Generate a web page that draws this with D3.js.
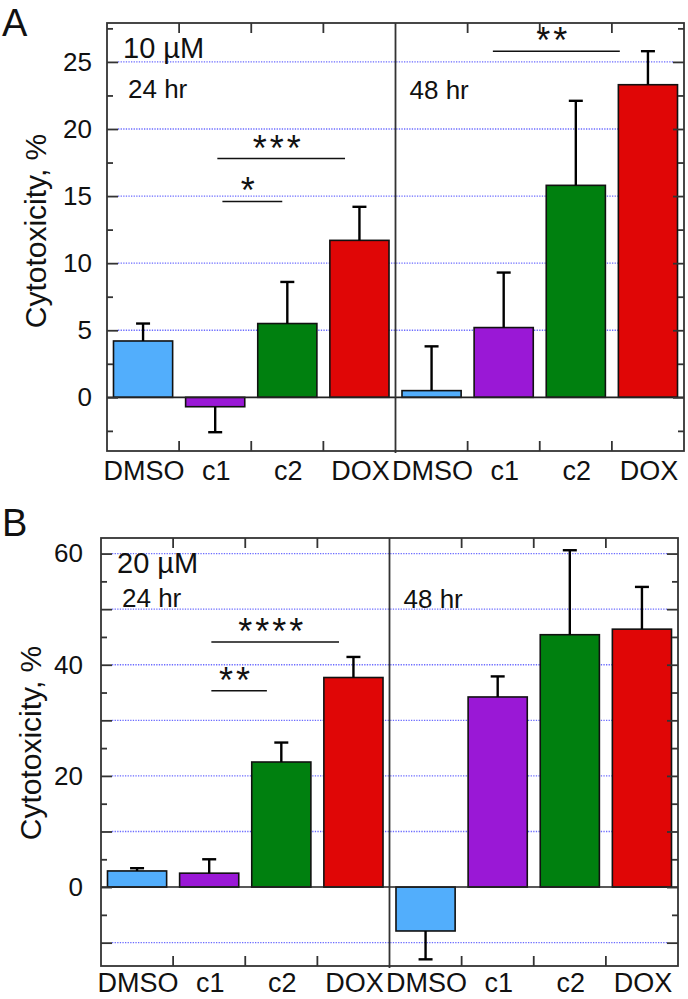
<!DOCTYPE html>
<html>
<head>
<meta charset="utf-8">
<script src="https://d3js.org/d3.v7.min.js"></script>
<style>
  body { margin: 0; background: white; }
  svg { display: block; }
  text { font-family: Arial, "Liberation Sans", sans-serif; fill: #111; }
</style>
</head>
<body>
<svg width="688" height="999"></svg>
<script>
// chart values
var categories = ["DMSO", "c1", "c2", "DOX"]
var times = ["24 hr", "48 hr"]
var colors = ["#52aefc", "#9a18d6", "#00800f", "#e00606"]

var meanA24 = [4.2, -0.7, 5.5, 11.7]
var errA24 = [1.3, 1.9, 3.1, 2.5]
var meanA48 = [0.5, 5.2, 15.8, 23.3]
var errA48 = [3.3, 4.1, 6.3, 2.5]

var meanB24 = [2.9, 2.5, 22.5, 37.7]
var errB24 = [0.5, 2.5, 3.5, 3.7]
var meanB48 = [-7.9, 34.2, 45.4, 46.4]
var errB48 = [5.1, 3.7, 15.2, 7.6]

var labelTicksA = [0, 5, 10, 15, 20, 25]
var majorTicksA = [0, 5, 10, 15, 20, 25]
var minorTicksA = [-2.5, 2.5, 7.5, 12.5, 17.5, 22.5, 27.5]
var gridA = [5, 10, 15, 20, 25]

var labelTicksB = [0, 20, 40, 60]
var majorTicksB = [-10, 0, 10, 20, 30, 40, 50, 60]
var minorTicksB = [-5, 5, 15, 25, 35, 45, 55]
var gridB = [-10, 10, 20, 30, 40, 50, 60]

// significance marks: from/to category keys, y in data units
var starsA = [
  { from: "24 hr|c1", to: "24 hr|DOX", y: 17.8, label: "***", d1: 0.03, d2: -0.2 },
  { from: "24 hr|c1", to: "24 hr|c2", y: 14.6, label: "*", d1: 0.1, d2: -0.07 },
  { from: "48 hr|c1", to: "48 hr|DOX", y: 25.8, label: "**", d1: -0.15, d2: -0.39 }
]
var starsB = [
  { from: "24 hr|c1", to: "24 hr|DOX", y: 44.1, label: "****", d1: 0.03, d2: -0.2 },
  { from: "24 hr|c1", to: "24 hr|c2", y: 35.3, label: "**", d1: 0.03, d2: -0.2 }
]

var svg = d3.select("svg")

function rows(m24, e24, m48, e48) {
  var out = []
  times.forEach(function(t, ti) {
    categories.forEach(function(c, i) {
      out.push({
        key: t + "|" + c, cat: c, time: t,
        value: ti == 0 ? m24[i] : m48[i],
        err: ti == 0 ? e24[i] : e48[i],
        color: colors[i]
      })
    })
  })
  return out
}

function drawPanel(p) {
  var g = svg.append("g")
  var data = rows(p.m24, p.e24, p.m48, p.e48)
  var keys = data.map(d => d.key)

  var x = d3.scaleBand().domain(keys).range([p.left, p.right]).paddingInner(0.18).paddingOuter(0.09)
  var y = d3.scaleLinear().domain(p.domain).range([p.bottom, p.top])
  var gap = (x.step() - x.bandwidth()) / 2
  var cx = k => x(k) + x.bandwidth() / 2
  var divider = x(keys[4]) - gap

  // dotted grid
  g.selectAll(".grid").data(p.grid).enter().append("line")
    .attr("x1", p.left + 11).attr("x2", p.right - 11)
    .attr("y1", d => y(d)).attr("y2", d => y(d))
    .attr("stroke", "#6b6bff").attr("stroke-width", 1.3)
    .attr("stroke-dasharray", "1.3,1.3")

  // bars
  g.selectAll(".bar").data(data).enter().append("rect")
    .attr("x", d => x(d.key))
    .attr("width", x.bandwidth())
    .attr("y", d => Math.min(y(d.value), y(0)))
    .attr("height", d => Math.abs(y(d.value) - y(0)))
    .attr("fill", d => d.color)
    .attr("stroke", "#111").attr("stroke-width", 1.6)

  // error bars (one sided)
  var eb = g.selectAll(".err").data(data).enter().append("g")
  eb.append("line")
    .attr("x1", d => cx(d.key)).attr("x2", d => cx(d.key))
    .attr("y1", d => y(d.value))
    .attr("y2", d => y(d.value + Math.sign(d.value) * d.err))
    .attr("stroke", "#000").attr("stroke-width", 2.4)
  eb.append("line")
    .attr("x1", d => cx(d.key) - 7).attr("x2", d => cx(d.key) + 7)
    .attr("y1", d => y(d.value + Math.sign(d.value) * d.err))
    .attr("y2", d => y(d.value + Math.sign(d.value) * d.err))
    .attr("stroke", "#000").attr("stroke-width", 2.4)

  // zero line
  g.append("line").attr("x1", p.left).attr("x2", p.right)
    .attr("y1", y(0)).attr("y2", y(0))
    .attr("stroke", "#222").attr("stroke-width", 1.6)

  // frame + divider
  g.append("rect").attr("x", p.left).attr("y", p.top)
    .attr("width", p.right - p.left).attr("height", p.bottom - p.top)
    .attr("fill", "none").attr("stroke", "#333").attr("stroke-width", 1.8)
  g.append("line").attr("x1", divider).attr("x2", divider)
    .attr("y1", p.top).attr("y2", p.bottom + 2)
    .attr("stroke", "#333").attr("stroke-width", 1.8)

  // left / right axes with inward ticks
  function yAxis(axisFn, vals, size) {
    return axisFn(y).tickValues(vals).tickSize(-size).tickFormat("")
  }
  var la = g.append("g").attr("transform", "translate(" + p.left + ",0)")
  la.append("g").call(yAxis(d3.axisLeft, p.major, 11))
  la.append("g").call(yAxis(d3.axisLeft, p.minor, 6))
  la.append("g").call(d3.axisLeft(y).tickValues(p.labels).tickSize(0).tickPadding(p.labelPad))
  var ra = g.append("g").attr("transform", "translate(" + p.right + ",0)")
  ra.append("g").call(yAxis(d3.axisRight, p.major, 11))
  ra.append("g").call(yAxis(d3.axisRight, p.minor, 6))

  // top / bottom ticks at group boundaries
  var bounds = keys.slice(1).filter((k, i) => i != 3).map(k => x(k) - gap)
  g.selectAll(".tt").data(bounds).enter().append("line")
    .attr("x1", d => d).attr("x2", d => d)
    .attr("y1", p.top).attr("y2", p.top + 10)
    .attr("stroke", "#333").attr("stroke-width", 1.8)
  g.selectAll(".bt").data(bounds).enter().append("line")
    .attr("x1", d => d).attr("x2", d => d)
    .attr("y1", p.bottom).attr("y2", p.bottom - 10)
    .attr("stroke", "#333").attr("stroke-width", 1.8)

  g.selectAll(".domain").remove()
  g.selectAll(".tick line").attr("stroke", "#333").attr("stroke-width", 1.8)
  g.selectAll(".tick text").attr("font-size", 26).attr("fill", "#111")
    .attr("font-family", "Arial, 'Liberation Sans', sans-serif")

  // category labels
  g.selectAll(".cat").data(data).enter().append("text")
    .attr("x", d => cx(d.key) + 1).attr("y", p.bottom + p.catDy)
    .attr("text-anchor", "middle").attr("font-size", 27)
    .text(d => d.cat)

  // y label
  g.append("text")
    .attr("transform", "translate(" + p.ylabX + "," + p.ylabY + ") rotate(-90)")
    .attr("text-anchor", "middle").attr("font-size", 30)
    .text("Cytotoxicity, %")

  // annotations
  g.append("text").attr("x", p.left + 16).attr("y", p.top + 35)
    .attr("font-size", 29).text(p.conc)
  g.append("text").attr("x", p.left + 21).attr("y", p.top + p.hrDy)
    .attr("font-size", 26).text(times[0])
  g.append("text").attr("x", divider + 14).attr("y", p.top + p.hrDy + 1)
    .attr("font-size", 26).text(times[1])

  // panel letter
  svg.append("text").attr("x", 2).attr("y", p.letterY)
    .attr("font-size", 38).text(p.letter)

  // significance
  p.stars.forEach(function(s) {
    var x1 = cx(s.from) + s.d1 * x.step()
    var x2 = cx(s.to) + s.d2 * x.step()
    g.append("line").attr("x1", x1).attr("x2", x2)
      .attr("y1", y(s.y)).attr("y2", y(s.y))
      .attr("stroke", "#111").attr("stroke-width", 1.5)
    g.append("text").attr("x", (x1 + x2) / 2 - 3).attr("y", y(s.y) + 2)
      .attr("text-anchor", "middle").attr("font-size", 36)
      .attr("letter-spacing", 3)
      .text(s.label)
  })
}

drawPanel({
  letter: "A", letterY: 36, conc: "10 \u00b5M",
  left: 107, right: 684, top: 23, bottom: 451, domain: [-4, 27.9],
  m24: meanA24, e24: errA24, m48: meanA48, e48: errA48,
  labels: labelTicksA, major: majorTicksA, minor: minorTicksA, grid: gridA,
  stars: starsA, labelPad: 15, catDy: 29, ylabX: 46, ylabY: 231, hrDy: 75
})

drawPanel({
  letter: "B", letterY: 536, conc: "20 \u00b5M",
  left: 101, right: 678, top: 538, bottom: 966, domain: [-14.2, 62.8],
  m24: meanB24, e24: errB24, m48: meanB48, e48: errB48,
  labels: labelTicksB, major: majorTicksB, minor: minorTicksB, grid: gridB,
  stars: starsB, labelPad: 18, catDy: 26, ylabX: 41, ylabY: 743, hrDy: 69
})
</script>
</body>
</html>
